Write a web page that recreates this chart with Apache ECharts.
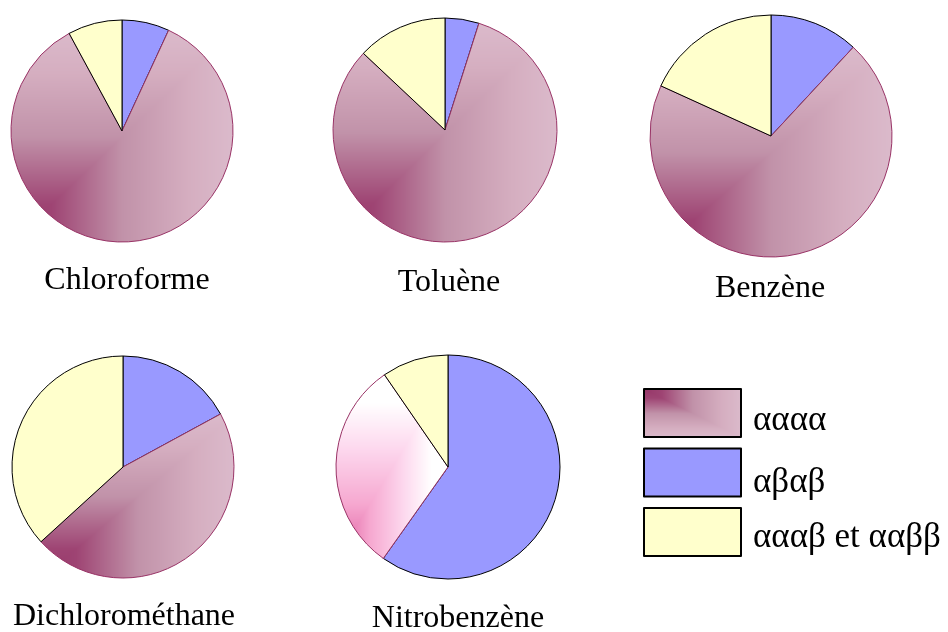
<!DOCTYPE html>
<html><head><meta charset="utf-8">
<script src="https://cdn.jsdelivr.net/npm/echarts@6/dist/echarts.min.js"></script>
<style>html,body{margin:0;padding:0;background:#fff}#c{width:948px;height:632px}</style>
</head><body><div id="c"></div>
<script>
// ---- data (percentages), clockwise from 12 o'clock ----
const solvents = ['Chloroforme', 'Toluène', 'Benzène', 'Dichlorométhane', 'Nitrobenzène'];
const sliceNames = ['αβαβ', 'αααα', 'αααβ et ααββ'];
const legendNames = ['αααα', 'αβαβ', 'αααβ et ααββ'];
const abab  = [6.9, 4.9, 11.9, 17.1, 59.8];
const aaaa  = [85.2, 82.1, 69.9, 46.2, 30.6];
const mixed = [7.9, 13.0, 18.2, 36.8, 9.6];

// ---- layout / style ----
const centers = [[122, 131], [445, 130], [771, 136], [123, 467], [448, 467]];
const radii = [111, 112, 121, 111, 112];
const titlePos = [[127, 265], [449, 267], [770, 273], [124, 601], [458, 603]];
const legendTextShift = [15, 20, 11];
const FONT = "'Liberation Serif', 'Times New Roman', serif";
const mauveRamp = [[0, [150, 55, 105]], [0.18, [158, 68, 115]], [0.5, [193, 146, 169]], [0.8, [213, 174, 192]], [1, [219, 186, 203]]];
const hotRamp = [[0, [222, 92, 158]], [0.3, [246, 168, 208]], [0.6, [253, 216, 238]], [0.85, [255, 255, 255]], [1, [255, 255, 255]]];
const rampOf = [mauveRamp, mauveRamp, mauveRamp, mauveRamp, hotRamp];

function rampColor(ramp, t) {
  t = Math.max(0, Math.min(1, t));
  for (let k = 1; k < ramp.length; k++) {
    if (t <= ramp[k][0]) {
      const a = ramp[k - 1], b = ramp[k];
      const f = (t - a[0]) / (b[0] - a[0] || 1);
      return a[1].map((v, j) => Math.round(v + (b[1][j] - v) * f));
    }
  }
  return ramp[ramp.length - 1][1];
}

function legendTexture(w, h) {
  const c = document.createElement('canvas'); c.width = w; c.height = h;
  const g = c.getContext('2d'); const im = g.createImageData(w, h);
  for (let y = 0; y < h; y++) for (let x = 0; x < w; x++) {
    const t = Math.max(x / w, y / h);
    const col = rampColor(mauveRamp, t); const p = (y * w + x) * 4;
    im.data[p] = col[0]; im.data[p + 1] = col[1]; im.data[p + 2] = col[2]; im.data[p + 3] = 255;
  }
  g.putImageData(im, 0, 0); return c;
}

function buildOption(pinkFills) {
  return {
    backgroundColor: '#fff',
    animation: false,
    title: solvents.map((s, i) => ({
      text: s, left: titlePos[i][0], top: titlePos[i][1], textAlign: 'center', padding: 0,
      textStyle: { fontFamily: FONT, fontSize: 32, fontWeight: 'normal', color: '#000' }
    })),
    legend: {
      orient: 'vertical', left: 643, top: 388, padding: 0, itemGap: 7,
      itemWidth: 97, itemHeight: 48, icon: 'rect', selectedMode: false,
      formatter: '\n{name}',
      textStyle: { fontFamily: FONT, fontSize: 35, color: '#000', padding: [0, 0, 0, 7] },
      data: legendNames.map((n, k) => ({
        name: n,
        textStyle: { fontFamily: FONT, fontSize: 35, color: '#000', lineHeight: legendTextShift[k], padding: [0, 0, 0, 7] },
        itemStyle: {
          color: k === 0 ? { image: legendTexture(97, 48), repeat: 'no-repeat' } : (k === 1 ? '#9999ff' : '#ffffcc'),
          borderColor: '#000', borderWidth: 2
        }
      }))
    },
    series: solvents.map((s, i) => ({
      type: 'pie', name: s, center: centers[i], radius: radii[i],
      startAngle: 90, clockwise: true, silent: true,
      label: { show: false }, labelLine: { show: false }, emphasis: { disabled: true },
      data: [
        { name: sliceNames[0], value: abab[i], itemStyle: { color: '#9999ff', borderColor: '#000', borderWidth: 1 } },
        { name: sliceNames[1], value: aaaa[i], itemStyle: { color: pinkFills ? pinkFills : '#c394ab', borderColor: '#993366', borderWidth: 1 } },
        { name: sliceNames[2], value: mixed[i], itemStyle: { color: '#ffffcc', borderColor: '#000', borderWidth: 1 } }
      ]
    }))
  };
}

const chart = echarts.init(document.getElementById('c'), null, { renderer: 'canvas' });
chart.setOption(buildOption(null));

// Build a "from corner" gradient texture in each αααα slice's bounding box, using the library's layout
const W = chart.getWidth(), H = chart.getHeight();
const tex = document.createElement('canvas'); tex.width = W; tex.height = H;
const tctx = tex.getContext('2d'); const img = tctx.createImageData(W, H);
solvents.forEach((s, i) => {
  const lay = chart.getModel().getSeriesByIndex(i).getData().getItemLayout(1);
  const xs = [lay.cx], ys = [lay.cy];
  for (let k = 0; k <= 720; k++) {
    const a = lay.startAngle + (lay.endAngle - lay.startAngle) * k / 720;
    xs.push(lay.cx + lay.r * Math.cos(a)); ys.push(lay.cy + lay.r * Math.sin(a));
  }
  const x0 = Math.min(...xs), x1 = Math.max(...xs), y0 = Math.min(...ys), y1 = Math.max(...ys);
  for (let y = Math.max(0, Math.floor(y0) - 2); y <= Math.min(H - 1, Math.ceil(y1) + 2); y++) {
    for (let x = Math.max(0, Math.floor(x0) - 2); x <= Math.min(W - 1, Math.ceil(x1) + 2); x++) {
      const t = Math.max((x - x0) / (x1 - x0), (y1 - y) / (y1 - y0));
      const col = rampColor(rampOf[i], t); const p = (y * W + x) * 4;
      img.data[p] = col[0]; img.data[p + 1] = col[1]; img.data[p + 2] = col[2]; img.data[p + 3] = 255;
    }
  }
});
tctx.putImageData(img, 0, 0);
chart.setOption(buildOption({ image: tex, repeat: 'no-repeat' }), true);
</script></body></html>
